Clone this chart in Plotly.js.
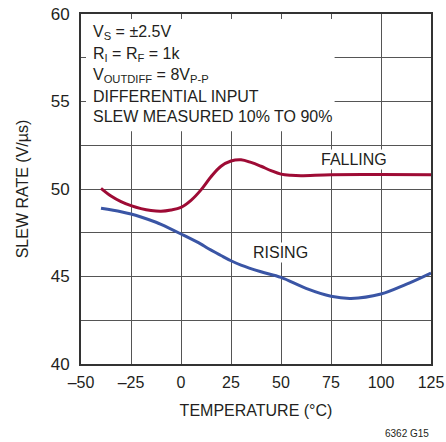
<!DOCTYPE html>
<html><head><meta charset="utf-8">
<script src="https://cdn.plot.ly/plotly-3.0.1.min.js"></script>
<style>html,body{margin:0;padding:0;background:#fff}#chart{width:446px;height:442px}</style>
</head><body><div id="chart"></div>
<script>
const tempFalling = [-40,-35,-30,-25,-20,-15,-10,-5,0,5,10,15,20,25,30,35,40,45,50,55,60,75,100,125];
const slewFalling = [50.04,49.6,49.28,49.05,48.88,48.77,48.73,48.8,48.95,49.35,49.95,50.7,51.3,51.6,51.67,51.52,51.3,51.05,50.85,50.78,50.76,50.82,50.83,50.82];
const tempRising = [-40,-30,-25,-20,-12.5,-10,0,10,12.5,20,25,30,40,50,62.5,75,85,100,112.5,125];
const slewRising = [48.9,48.7,48.57,48.4,48.1,47.98,47.43,46.85,46.67,46.2,45.9,45.65,45.27,44.95,44.32,43.87,43.75,44.0,44.55,45.2];
const xTickVals = [-50,-25,0,25,50,75,100,125];
const xTickText = ['\u201350','\u201325','0','25','50','75','100','125'];
const yTickVals = [40,45,50,55,60];
const yTickText = ['40','45','50','55','60'];
const noteLines = ['V<sub>S</sub> = \u00b12.5V','R<sub>I</sub> = R<sub>F</sub> = 1k','V<sub>OUTDIFF</sub> = 8V<sub>P-P</sub>','DIFFERENTIAL INPUT','SLEW MEASURED 10% TO 90%'];

const FONT = '"Liberation Sans", Arial, sans-serif';
const txt = '#231f20';
const FS = 16;
const noteY = [33,54,75,96,117];
const annotations = noteLines.map((t,i)=>({
  xref:'paper', yref:'paper', x:(91-81)/350, y:(364-noteY[i])/350,
  xanchor:'left', yanchor:'middle', text:t, showarrow:false,
  font:{family:FONT,size:FS,color:txt}
}));
annotations.push({x:86.5,y:51.71,xref:'x',yref:'y',text:'FALLING',showarrow:false,bgcolor:'#fff',font:{family:FONT,size:FS,color:txt}});
annotations.push({x:49.5,y:46.4,xref:'x',yref:'y',text:'RISING',showarrow:false,bgcolor:'#fff',font:{family:FONT,size:FS,color:txt}});
annotations.push({xref:'paper',yref:'paper',x:1,y:(364-441)/350,xanchor:'right',yanchor:'bottom',text:'6362 G15',showarrow:false,font:{family:FONT,size:10,color:txt}});

const data = [
  {x:tempFalling,y:slewFalling,mode:'lines',line:{color:'#9e0b35',width:3,shape:'spline',smoothing:1},hoverinfo:'skip'},
  {x:tempRising,y:slewRising,mode:'lines',line:{color:'#3a55a5',width:3,shape:'spline',smoothing:1},hoverinfo:'skip'}
];
const layout = {
  width:446,height:442,showlegend:false,
  margin:{l:81,r:15,t:14,b:78},
  paper_bgcolor:'#fff',plot_bgcolor:'#fff',
  font:{family:FONT,size:FS,color:txt},
  xaxis:{range:[-50,125],tickvals:xTickVals,ticktext:xTickText,showgrid:true,gridcolor:'#555',gridwidth:1,
    ticks:'inside',ticklen:5,tickcolor:'#555',showline:true,linecolor:'#333',linewidth:2,mirror:'ticks',zeroline:false,
    ticklabeloverflow:'allow',ticklabelstandoff:3,
    tickfont:{family:FONT,size:FS,color:txt},
    title:{text:'TEMPERATURE (\u00b0C)',font:{family:FONT,size:FS,color:txt},standoff:15}},
  yaxis:{range:[40,60],tickvals:yTickVals,ticktext:yTickText,showgrid:true,gridcolor:'#555',gridwidth:1,
    ticks:'inside',ticklen:5,tickcolor:'#555',showline:true,linecolor:'#333',linewidth:2,mirror:'ticks',zeroline:false,
    minor:{dtick:2.5,showgrid:true,gridcolor:'#555',gridwidth:1,ticks:'inside',ticklen:5,tickcolor:'#555'},
    ticklabelstandoff:6,
    tickfont:{family:FONT,size:FS+1,color:txt},
    title:{text:'SLEW RATE (V/\u00b5s)',font:{family:FONT,size:FS,color:txt},standoff:18}},
  shapes:[{type:'rect',xref:'x',yref:'y',x0:-50,x1:76.8,y0:53.3,y1:60,
    fillcolor:'#fff',line:{width:0},layer:'between'}],
  annotations:annotations
};
Plotly.newPlot('chart',data,layout,{staticPlot:true,displayModeBar:false});
</script></body></html>
